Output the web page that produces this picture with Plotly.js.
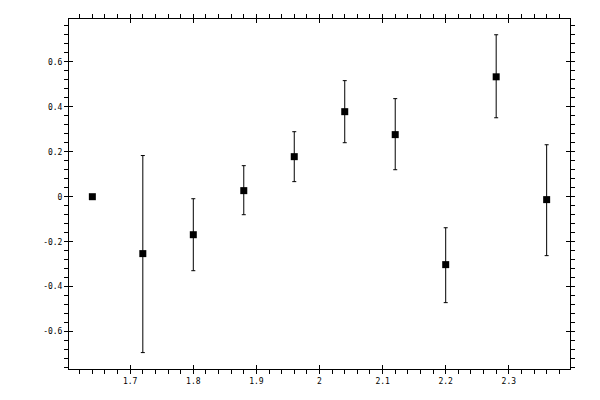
<!DOCTYPE html>
<html>
<head>
<meta charset="utf-8">
<script src="https://cdn.plot.ly/plotly-3.0.1.min.js"></script>
<style>
  html, body { margin: 0; padding: 0; background: #fff; }
  #chart { width: 600px; height: 400px; }
</style>
</head>
<body>
<div id="chart"></div>
<script>
// measured points with their error bar ends
const xValues = [1.64, 1.72, 1.80, 1.88, 1.96, 2.04, 2.12, 2.20, 2.28, 2.36];
const yValues = [0.0, -0.253, -0.169, 0.027, 0.178, 0.378, 0.276, -0.302, 0.533, -0.013];
const yUpper = [0.0, 0.183, -0.009, 0.138, 0.289, 0.516, 0.436, -0.138, 0.72, 0.231];
const yLower = [0.0, -0.693, -0.329, -0.08, 0.067, 0.24, 0.12, -0.471, 0.351, -0.262];

const xTickVals = [1.7, 1.8, 1.9, 2.0, 2.1, 2.2, 2.3];
const xTickText = ["1.7", "1.8", "1.9", "2", "2.1", "2.2", "2.3"];
const yTickVals = [-0.6, -0.4, -0.2, 0, 0.2, 0.4, 0.6];
const yTickText = ["-0.6", "-0.4", "-0.2", "0", "0.2", "0.4", "0.6"];

const xRange = [1.603, 2.397];
const yRange = [-0.766, 0.79];

const errPlus = yUpper.map((u, i) => u - yValues[i]);
const errMinus = yLower.map((l, i) => yValues[i] - l);

const tickFont = { family: "DejaVu Sans Mono", size: 8, color: "#000" };

const points = {
  x: xValues,
  y: yValues,
  type: "scatter",
  mode: "markers",
  marker: { symbol: "square", size: 7, color: "#000" },
  error_y: {
    type: "data",
    symmetric: false,
    array: errPlus,
    arrayminus: errMinus,
    color: "#000",
    thickness: 1,
    width: 2,
  },
  hoverinfo: "none",
};

// empty trace so the overlay axes (inner half of major ticks) get drawn
const overlay = { x: [], y: [], xaxis: "x2", yaxis: "y2", type: "scatter", hoverinfo: "none" };

const layout = {
  width: 600,
  height: 400,
  margin: { l: 69, r: 30, t: 19, b: 31 },
  paper_bgcolor: "#fff",
  plot_bgcolor: "#fff",
  showlegend: false,
  xaxis: {
    range: xRange,
    tickvals: xTickVals,
    ticktext: xTickText,
    ticks: "outside",
    ticklen: 4,
    tickwidth: 1,
    tickcolor: "#000",
    minor: { dtick: 0.02, tick0: 1.6, ticks: "outside", ticklen: 4, tickwidth: 1, tickcolor: "#000", showgrid: false },
    showline: true,
    linecolor: "#000",
    linewidth: 1,
    mirror: "ticks",
    showgrid: false,
    zeroline: false,
    tickfont: tickFont,
  },
  yaxis: {
    range: yRange,
    tickvals: yTickVals,
    ticktext: yTickText,
    ticks: "outside",
    ticklen: 4,
    tickwidth: 1,
    tickcolor: "#000",
    minor: { dtick: 0.04, tick0: 0, ticks: "outside", ticklen: 4, tickwidth: 1, tickcolor: "#000", showgrid: false },
    showline: true,
    linecolor: "#000",
    linewidth: 1,
    mirror: "ticks",
    showgrid: false,
    zeroline: false,
    tickfont: tickFont,
  },
  xaxis2: {
    overlaying: "x",
    anchor: "y2",
    range: xRange,
    tickvals: xTickVals,
    ticks: "inside",
    ticklen: 4,
    tickwidth: 1,
    tickcolor: "#000",
    mirror: "ticks",
    showticklabels: false,
    showline: false,
    showgrid: false,
    zeroline: false,
  },
  yaxis2: {
    overlaying: "y",
    anchor: "x2",
    range: yRange,
    tickvals: yTickVals,
    ticks: "inside",
    ticklen: 4,
    tickwidth: 1,
    tickcolor: "#000",
    mirror: "ticks",
    showticklabels: false,
    showline: false,
    showgrid: false,
    zeroline: false,
  },
};

Plotly.newPlot("chart", [points, overlay], layout, { displayModeBar: false, staticPlot: true });
</script>
</body>
</html>
